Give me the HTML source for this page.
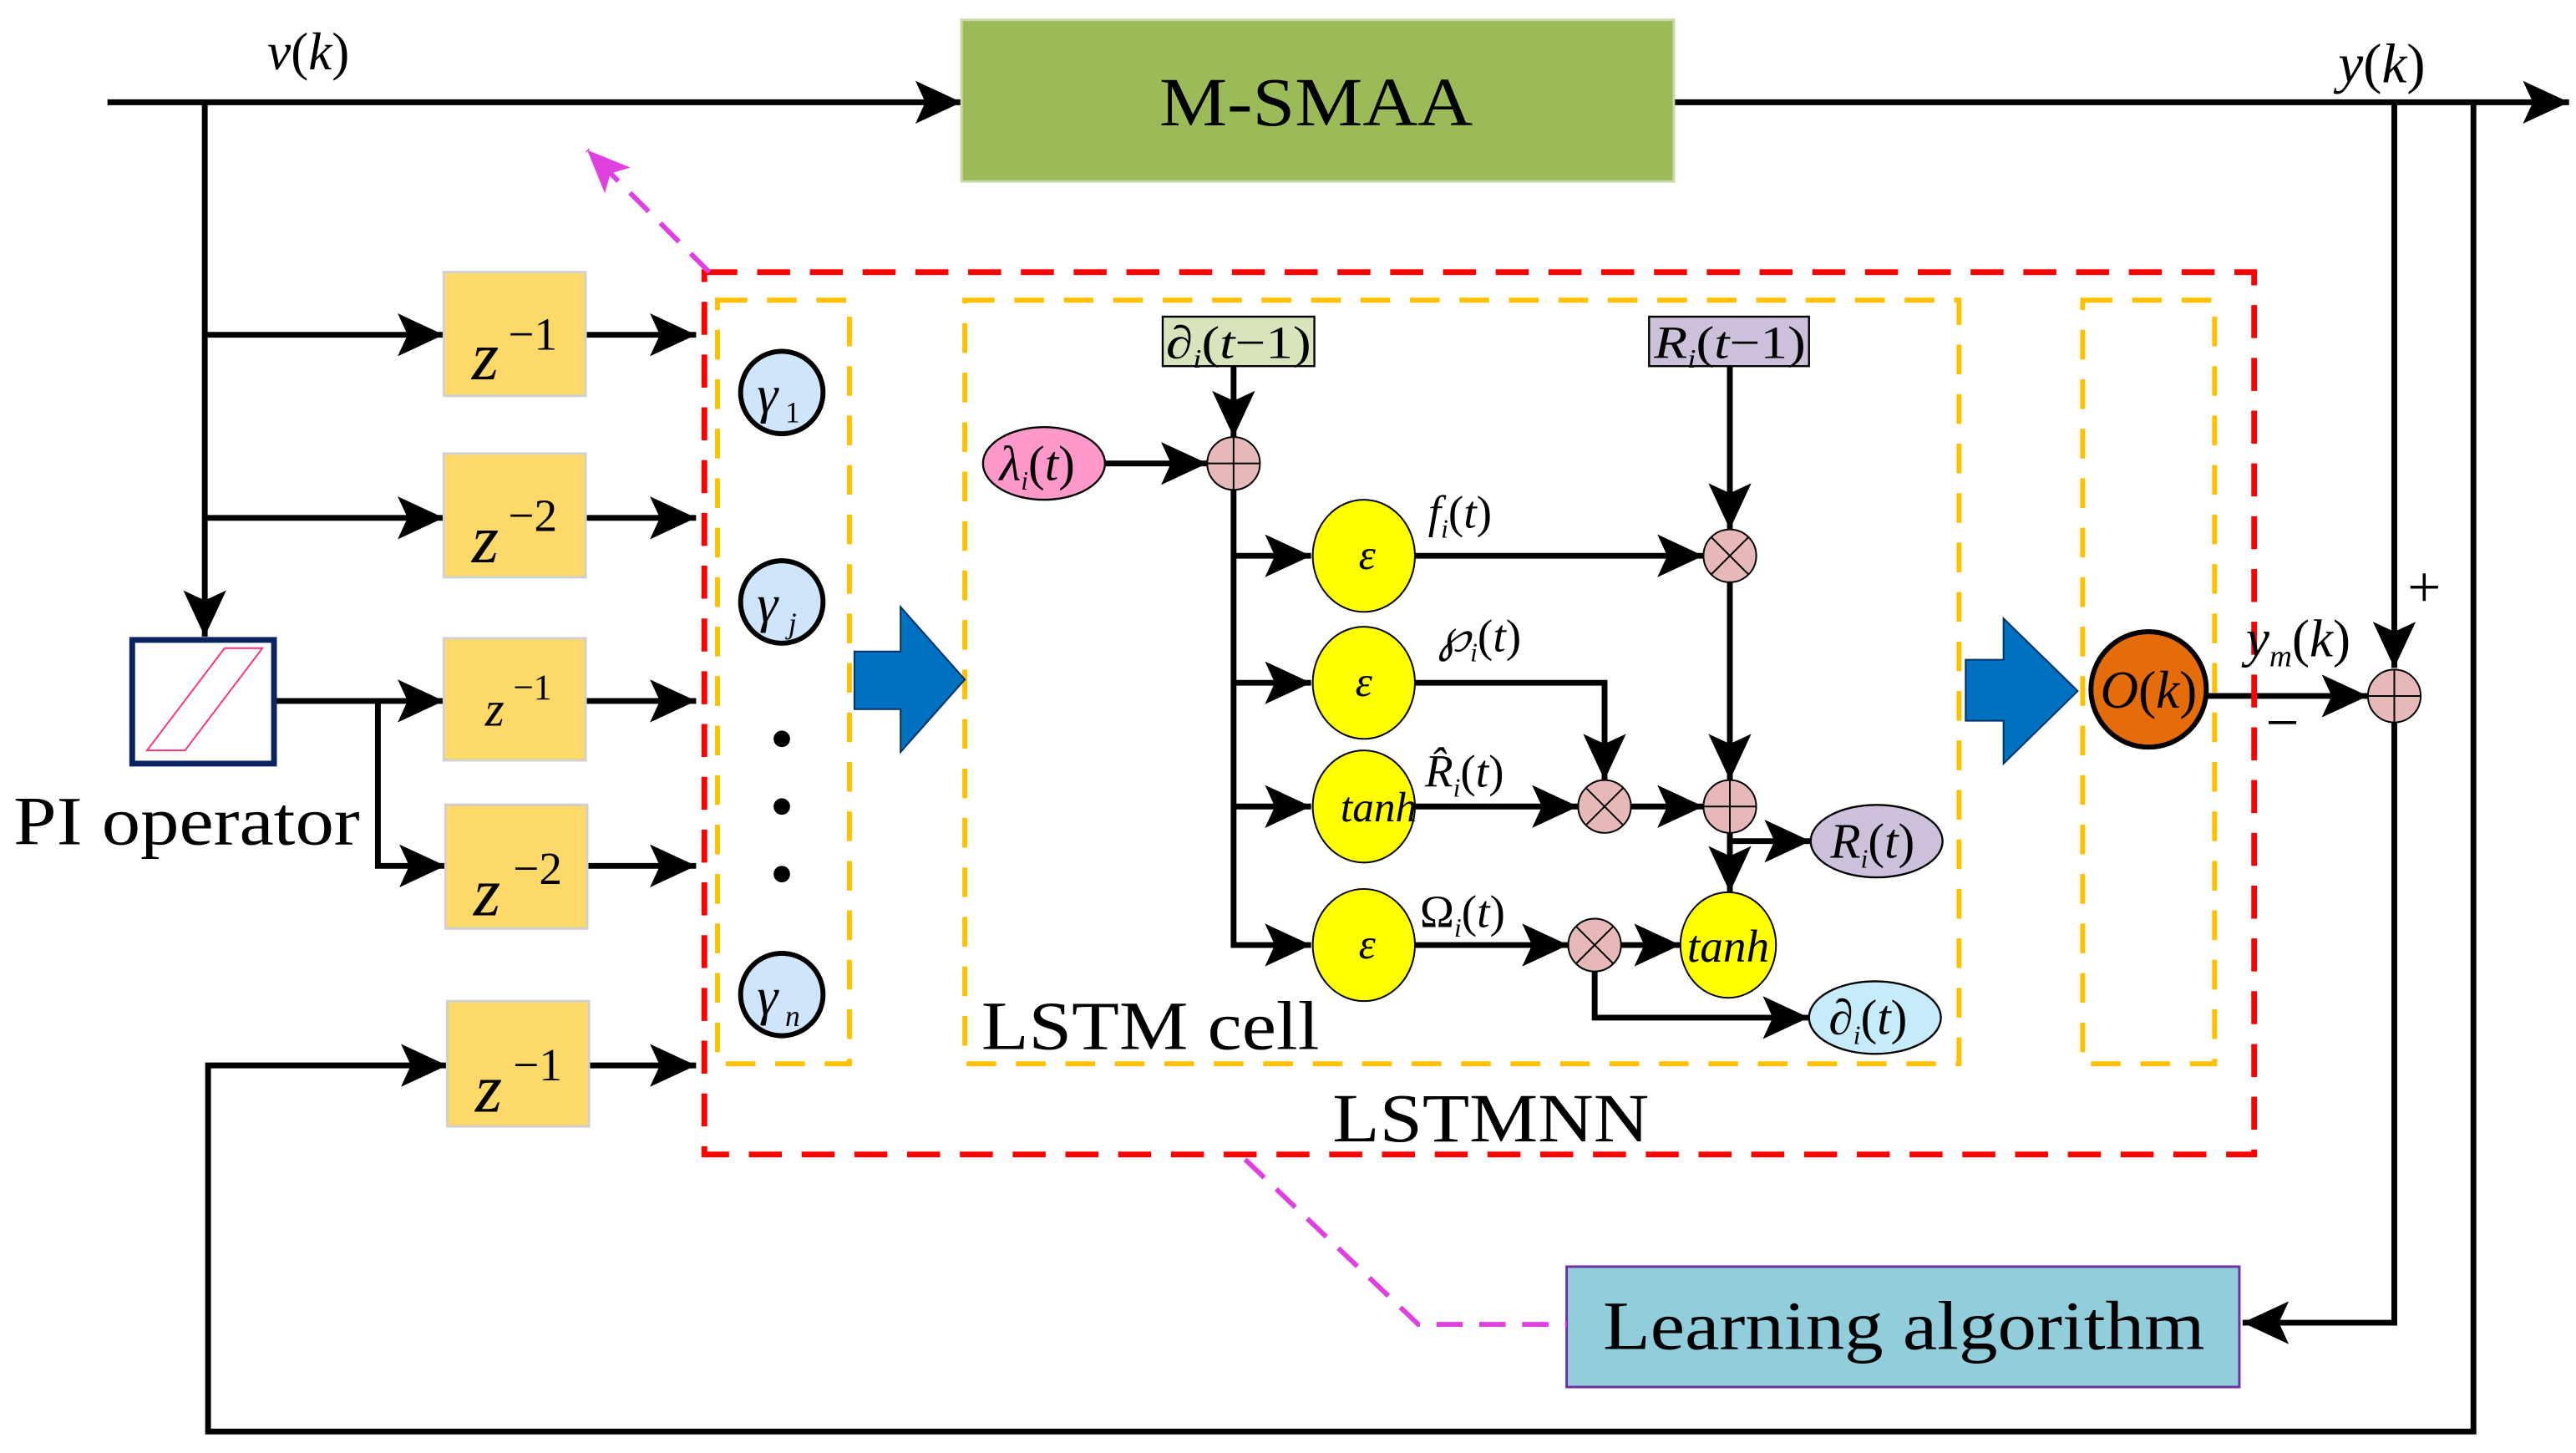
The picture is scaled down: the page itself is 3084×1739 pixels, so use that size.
<!DOCTYPE html>
<html><head><meta charset="utf-8"><style>
html,body{margin:0;padding:0;background:#fff;}
svg{display:block;}
text{font-family:"Liberation Serif",serif;}
.i{font-style:italic;}
</style></head><body>
<svg width="3084" height="1739" viewBox="0 0 1562 881" xmlns="http://www.w3.org/2000/svg">
<defs>
<marker id="a" markerUnits="userSpaceOnUse" markerWidth="30" markerHeight="28" refX="28" refY="13" orient="auto"><path d="M0,0 L28,13 L0,26 L6,13 z" fill="#000"/></marker>
<marker id="m" markerUnits="userSpaceOnUse" markerWidth="30" markerHeight="28" refX="26" refY="11" orient="auto"><path d="M0,0 L26,11 L0,22 L6,11 z" fill="#e040e0"/></marker>
</defs>
<g stroke="#000" stroke-width="3.5" fill="none">
<line x1="65" y1="62" x2="583" y2="62" marker-end="url(#a)"/>
<line x1="1015" y1="62" x2="1558" y2="62" marker-end="url(#a)"/>
<line x1="124" y1="62" x2="124" y2="386" marker-end="url(#a)"/>
<line x1="124" y1="203" x2="269" y2="203" marker-end="url(#a)"/>
<line x1="124" y1="314" x2="269" y2="314" marker-end="url(#a)"/>
<line x1="167" y1="425" x2="269" y2="425" marker-end="url(#a)"/>
<polyline points="229,425 229,525 270,525" marker-end="url(#a)"/>
<line x1="355" y1="203" x2="422" y2="203" marker-end="url(#a)"/>
<line x1="355" y1="314" x2="422" y2="314" marker-end="url(#a)"/>
<line x1="355" y1="425" x2="422" y2="425" marker-end="url(#a)"/>
<line x1="356" y1="525" x2="422" y2="525" marker-end="url(#a)"/>
<line x1="357" y1="646" x2="422" y2="646" marker-end="url(#a)"/>
<polyline points="1500,62 1500,868 126,868 126,646 271,646" marker-end="url(#a)"/>
<line x1="1452" y1="62" x2="1452" y2="405" marker-end="url(#a)"/>
<polyline points="1452,438 1452,802 1360,802" marker-end="url(#a)"/>
<line x1="1338" y1="422" x2="1436" y2="422" marker-end="url(#a)"/>
<line x1="748" y1="222" x2="748" y2="265" marker-end="url(#a)"/>
<line x1="670" y1="281" x2="732" y2="281" marker-end="url(#a)"/>
<polyline points="748,297 748,573 795,573" marker-end="url(#a)"/>
<line x1="748" y1="337" x2="795" y2="337" marker-end="url(#a)"/>
<line x1="748" y1="414" x2="795" y2="414" marker-end="url(#a)"/>
<line x1="748" y1="489" x2="795" y2="489" marker-end="url(#a)"/>
<line x1="858" y1="337" x2="1033" y2="337" marker-end="url(#a)"/>
<line x1="1049" y1="222" x2="1049" y2="321" marker-end="url(#a)"/>
<polyline points="858,414 973,414 973,473" marker-end="url(#a)"/>
<line x1="858" y1="489" x2="957" y2="489" marker-end="url(#a)"/>
<line x1="989" y1="489" x2="1033" y2="489" marker-end="url(#a)"/>
<line x1="1049" y1="353" x2="1049" y2="473" marker-end="url(#a)"/>
<line x1="1049" y1="505" x2="1049" y2="541" marker-end="url(#a)"/>
<line x1="1049" y1="510" x2="1098" y2="510" marker-end="url(#a)"/>
<line x1="858" y1="573" x2="951" y2="573" marker-end="url(#a)"/>
<line x1="983" y1="573" x2="1019" y2="573" marker-end="url(#a)"/>
<polyline points="967,589 967,617 1097,617" marker-end="url(#a)"/>
</g>
<rect x="583" y="12" width="432" height="98" fill="#9bbb59" stroke="#c8d8a8" stroke-width="1.5"/>
<text x="703" y="76" font-size="42" textLength="190" lengthAdjust="spacingAndGlyphs">M-SMAA</text>
<text x="162" y="42" font-size="32"><tspan class="i">v</tspan>(<tspan class="i">k</tspan>)</text>
<text x="1418" y="50" font-size="34"><tspan class="i">y</tspan>(<tspan class="i">k</tspan>)</text>
<g fill="#fcd968" stroke="#d0d0d0" stroke-width="1.5">
<rect x="269" y="165" width="86" height="75"/>
<rect x="269" y="275" width="86" height="75"/>
<rect x="269" y="387" width="86" height="74"/>
<rect x="270" y="488" width="86" height="75"/>
<rect x="271" y="607" width="86" height="76"/>
</g>
<g font-size="42">
<text x="286" y="230" class="i">z</text><text x="308" y="212" font-size="28">−1</text>
<text x="286" y="341" class="i">z</text><text x="308" y="322" font-size="28">−2</text>
<text x="294" y="440" class="i" font-size="30">z</text><text x="311" y="424" font-size="22">−1</text>
<text x="287" y="555" class="i">z</text><text x="311" y="536" font-size="28">−2</text>
<text x="288" y="674" class="i">z</text><text x="311" y="655" font-size="28">−1</text>
</g>
<rect x="80" y="388" width="86" height="75" fill="#fff" stroke="#0b2461" stroke-width="3.5"/>
<polygon points="89,455 112,455 159,393 136,393" fill="none" stroke="#ff3377" stroke-width="1"/>
<text x="8" y="512" font-size="42" textLength="210" lengthAdjust="spacingAndGlyphs">PI operator</text>
<rect x="427" y="165" width="940" height="535" fill="none" stroke="#ff0000" stroke-width="3.5" stroke-dasharray="20 12"/>
<g fill="none" stroke="#ffc000" stroke-width="3" stroke-dasharray="18 12">
<rect x="435" y="182" width="80" height="463"/>
<rect x="585" y="182" width="603" height="463"/>
<rect x="1263" y="182" width="80" height="463"/>
</g>
<g fill="#cfe5fb" stroke="#000" stroke-width="3">
<circle cx="474" cy="238" r="25"/><circle cx="474" cy="365" r="25"/><circle cx="474" cy="603" r="25"/>
</g>
<g font-size="32"><text x="459" y="250" class="i">γ</text><text x="476" y="256" font-size="18">1</text>
<text x="459" y="377" class="i">γ</text><text x="478" y="384" font-size="18" class="i">j</text>
<text x="459" y="615" class="i">γ</text><text x="476" y="622" font-size="18" class="i">n</text></g>
<circle cx="474" cy="448" r="5"/><circle cx="474" cy="489" r="5"/><circle cx="474" cy="530" r="5"/>
<polygon points="518,395 546,395 546,368 585,412 546,456 546,430 518,430" fill="#0070c0" stroke="#003060" stroke-width="1"/>
<polygon points="1192,400 1215,400 1215,375 1260,419 1215,463 1215,437 1192,437" fill="#0070c0" stroke="#003060" stroke-width="1"/>
<circle cx="1303" cy="418" r="35" fill="#e46c0a" stroke="#000" stroke-width="3"/>
<text x="1303" y="429" font-size="32" text-anchor="middle"><tspan class="i">O</tspan>(<tspan class="i">k</tspan>)</text>
<circle cx="1452" cy="422" r="16" fill="#e6b8b7" stroke="#000" stroke-width="1"/>
<path d="M1436,422 H1468 M1452,406 V438" stroke="#000" stroke-width="1"/>
<text x="1460" y="368" font-size="36">+</text>
<text x="1374" y="450" font-size="36">−</text>
<text x="1362" y="398" font-size="32"><tspan class="i">y</tspan><tspan font-size="19" dy="6" class="i">m</tspan><tspan dy="-6">(</tspan><tspan class="i">k</tspan>)</text>
<rect x="950" y="768" width="408" height="73" fill="#92cddc" stroke="#7030a0" stroke-width="1.5"/>
<text x="972" y="818" font-size="42" textLength="365" lengthAdjust="spacingAndGlyphs">Learning algorithm</text>
<text x="808" y="692" font-size="42" textLength="192" lengthAdjust="spacingAndGlyphs">LSTMNN</text>
<text x="595" y="636" font-size="42" textLength="205" lengthAdjust="spacingAndGlyphs">LSTM cell</text>
<polyline points="755,703 860,803 950,803" fill="none" stroke="#e040e0" stroke-width="3" stroke-dasharray="16 10"/>
<line x1="430" y1="165" x2="356" y2="91" stroke="#e040e0" stroke-width="3" stroke-dasharray="16 10" marker-end="url(#m)"/>
<rect x="705" y="192" width="92" height="30" fill="#d8e4bc" stroke="#000" stroke-width="1.2"/>
<text x="707" y="217" font-size="28" textLength="88" lengthAdjust="spacingAndGlyphs"><tspan class="i">∂</tspan><tspan font-size="16" dy="6" class="i">i</tspan><tspan dy="-6">(</tspan><tspan class="i">t</tspan>−1)</text>
<rect x="1000" y="192" width="97" height="30" fill="#ccc0da" stroke="#000" stroke-width="1.2"/>
<text x="1003" y="217" font-size="28" textLength="92" lengthAdjust="spacingAndGlyphs"><tspan class="i">R</tspan><tspan font-size="16" dy="6" class="i">i</tspan><tspan dy="-6">(</tspan><tspan class="i">t</tspan>−1)</text>
<ellipse cx="633" cy="281" rx="37" ry="22" fill="#ff99cc" stroke="#000" stroke-width="1.2"/>
<text x="606" y="291" font-size="30"><tspan class="i">λ</tspan><tspan font-size="16" dy="6" class="i">i</tspan><tspan dy="-6">(</tspan><tspan class="i">t</tspan>)</text>
<g fill="#e6b8b7" stroke="#000" stroke-width="1">
<circle cx="748" cy="281" r="16"/><circle cx="1049" cy="337" r="16"/><circle cx="973" cy="489" r="16"/><circle cx="1049" cy="489" r="16"/><circle cx="967" cy="573" r="16"/>
</g>
<g stroke="#000" stroke-width="1">
<path d="M732,281 H764 M748,265 V297"/>
<path d="M1033,489 H1065 M1049,473 V505"/>
<path d="M1038,326 L1060,348 M1060,326 L1038,348"/>
<path d="M962,478 L984,500 M984,478 L962,500"/>
<path d="M956,562 L978,584 M978,562 L956,584"/>
</g>
<g fill="#ffff00" stroke="#000" stroke-width="1">
<ellipse cx="827" cy="337" rx="31" ry="34"/><ellipse cx="827" cy="414" rx="31" ry="34"/><ellipse cx="827" cy="489" rx="31" ry="34"/><ellipse cx="827" cy="573" rx="31" ry="34"/>
<ellipse cx="1048" cy="573" rx="29" ry="32"/>
</g>
<g font-size="26" class="i" text-anchor="middle">
<text x="829" y="345">ε</text><text x="827" y="422">ε</text><text x="836" y="498">tanh</text><text x="829" y="581">ε</text><text x="1048" y="583" font-size="28">tanh</text>
</g>
<g font-size="28">
<text x="866" y="320"><tspan class="i">f</tspan><tspan font-size="16" dy="6" class="i">i</tspan><tspan dy="-6">(</tspan><tspan class="i">t</tspan>)</text>
<text x="872" y="395"><tspan class="i">℘</tspan><tspan font-size="16" dy="6" class="i">i</tspan><tspan dy="-6">(</tspan><tspan class="i">t</tspan>)</text>
<text x="864" y="477"><tspan class="i">R̂</tspan><tspan font-size="16" dy="6" class="i">i</tspan><tspan dy="-6">(</tspan><tspan class="i">t</tspan>)</text>
<text x="861" y="562">Ω<tspan font-size="16" dy="6" class="i">i</tspan><tspan dy="-6">(</tspan><tspan class="i">t</tspan>)</text>
</g>
<ellipse cx="1138" cy="510" rx="40" ry="22" fill="#ccc0da" stroke="#000" stroke-width="1.2"/>
<text x="1110" y="520" font-size="30"><tspan class="i">R</tspan><tspan font-size="16" dy="6" class="i">i</tspan><tspan dy="-6">(</tspan><tspan class="i">t</tspan>)</text>
<ellipse cx="1137" cy="617" rx="40" ry="22" fill="#c6ecfb" stroke="#000" stroke-width="1.2"/>
<text x="1109" y="627" font-size="30"><tspan class="i">∂</tspan><tspan font-size="16" dy="6" class="i">i</tspan><tspan dy="-6">(</tspan><tspan class="i">t</tspan>)</text>
</svg>
</body></html>
